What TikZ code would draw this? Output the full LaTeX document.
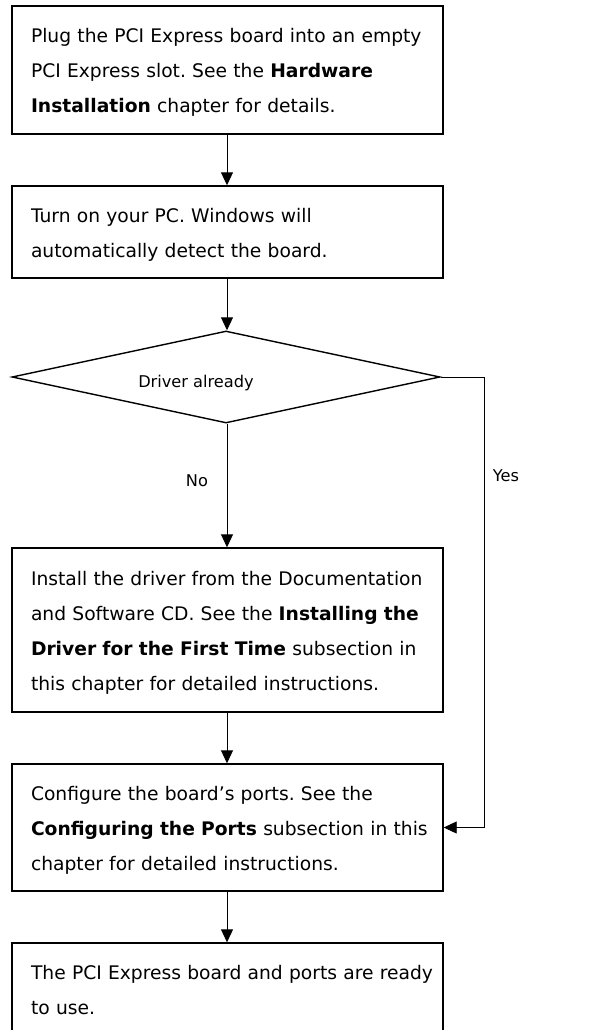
\documentclass[tikz,border=0pt]{standalone}
\usepackage{fontspec}
\setmainfont{DejaVu Sans}
\usetikzlibrary{arrows.meta,shapes.geometric}
\newcommand\firstln[1]{\mbox{\rule{0pt}{21pt}#1}}
\newcommand\midln[1]{\mbox{#1}}
\newcommand\lastln[1]{\mbox{\rule[-5pt]{0pt}{5pt}#1}}
\begin{document}
\frenchspacing
\begin{tikzpicture}[x=1pt,y=-1pt,
  stepbox/.style={draw,line width=1.4pt,rectangle,minimum width=431pt,text width=393pt,
    align=left,inner xsep=19pt,inner ysep=0pt,font=\fontsize{18.7}{35}\selectfont},
  flow/.style={line width=0.9pt,-{Triangle[width=12pt,length=13pt]}},
  lbl/.style={font=\fontsize{16.2}{18}\selectfont,inner sep=0pt}]
\useasboundingbox (0,0) rectangle (598,1030);
\clip (0,0) rectangle (598,1030);
\node[stepbox,minimum height=128pt] (b1) at (227.5,70)
  {\firstln{Plug the PCI Express board into an empty}\\\midln{PCI Express slot. See the \textbf{Hardware}}\\\lastln{\textbf{Installation} chapter for details.}};
\node[stepbox,minimum height=92pt] (b2) at (227.5,232)
  {\firstln{Turn on your PC. Windows will}\\\lastln{automatically detect the board.}};
\node[draw,diamond,line width=1.4pt,minimum width=428pt,minimum height=92pt,inner sep=0pt,
  label={[lbl,xshift=-30pt,yshift=-6pt]center:Driver already}] (d) at (226,377) {};
\node[stepbox,minimum height=164pt] (b3) at (227.5,630)
  {\firstln{Install the driver from the Documentation}\\\midln{and Software CD. See the \textbf{Installing the}}\\\midln{\textbf{Driver for the First Time} subsection in}\\\lastln{this chapter for detailed instructions.}};
\node[stepbox,minimum height=127pt] (b4) at (227.5,827.5)
  {\firstln{Configure the board’s ports. See the}\\\midln{\textbf{Configuring the Ports} subsection in this}\\\lastln{chapter for detailed instructions.}};
\node[stepbox,minimum height=92pt] (b5) at (227.5,989)
  {\firstln{The PCI Express board and ports are ready}\\\lastln{to use.}};
\draw[flow] (b1.south -| 227,0) -- (b2.north -| 227,0);
\draw[flow] (b2.south -| 227,0) -- (d.north -| 227,0);
\draw[flow] (d.south -| 227,0) -- (b3.north -| 227,0);
\draw[flow] (b3.south -| 227,0) -- (b4.north -| 227,0);
\draw[flow] (b4.south -| 227,0) -- (b5.north -| 227,0);
\coordinate (yc) at (484,377);
\draw[flow] (d.east) -- (yc) |- (b4.east);
\node[lbl] (no) at (197,481) {No};
\node[lbl] (yes) at (506,476) {Yes};
\end{tikzpicture}
\end{document}
